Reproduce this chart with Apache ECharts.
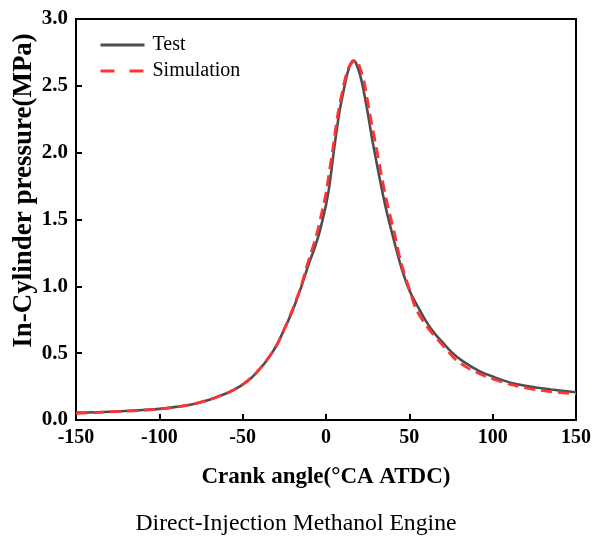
<!DOCTYPE html>
<html>
<head>
<meta charset="utf-8">
<script src="https://cdn.jsdelivr.net/npm/echarts@6/dist/echarts.min.js"></script>
<style>
  html, body { margin: 0; padding: 0; background: #fff; }
  #chart { width: 592px; height: 538px; }
</style>
</head>
<body>
<div id="chart"></div>
<script>
// Crank angle (°CA ATDC) and measured in-cylinder pressure (MPa)
const testAngle = [-150, -130, -110, -100, -90, -80, -70, -60, -55, -50, -45, -40, -35, -30, -25, -20, -15, -10, -7, -4, -2, 0, 2, 5, 8, 10, 13, 15, 16.5, 18, 20, 22, 25, 28, 32, 36, 40, 45, 50, 55, 60, 65, 70, 76, 82, 92, 100, 112, 125, 135, 150];
const testPressure = [0.055, 0.062, 0.075, 0.083, 0.098, 0.118, 0.152, 0.198, 0.228, 0.265, 0.312, 0.378, 0.455, 0.55, 0.68, 0.82, 0.99, 1.18, 1.28, 1.40, 1.50, 1.61, 1.75, 2.04, 2.3, 2.43, 2.6, 2.67, 2.69, 2.67, 2.6, 2.5, 2.3, 2.08, 1.82, 1.58, 1.38, 1.15, 0.97, 0.85, 0.74, 0.65, 0.58, 0.5, 0.44, 0.365, 0.325, 0.275, 0.245, 0.228, 0.207];

// Simulated in-cylinder pressure (MPa)
const simAngle = [-150, -130, -110, -100, -90, -80, -70, -60, -50, -40, -30, -25, -20, -15, -12, -9, -6, -2, 0, 4, 7, 10, 13, 16, 18, 20, 23, 26, 30, 33, 36, 41, 45, 50, 54, 60, 64, 70, 78, 85, 96, 112, 130, 150];
const simPressure = [0.05, 0.06, 0.073, 0.082, 0.097, 0.118, 0.152, 0.198, 0.265, 0.378, 0.55, 0.68, 0.83, 1.0, 1.13, 1.25, 1.37, 1.58, 1.70, 2.02, 2.28, 2.47, 2.62, 2.68, 2.69, 2.65, 2.52, 2.31, 2.05, 1.85, 1.66, 1.4, 1.18, 0.98, 0.83, 0.71, 0.645, 0.56, 0.45, 0.39, 0.325, 0.262, 0.219, 0.195];

const seriesNames = ['Test', 'Simulation'];
const xTicks = [-150, 150, 50];   // min, max, step
const yTicks = [0, 3, 0.5];       // min, max, step

const pair = (xs, ys) => xs.map((x, i) => [x, ys[i]]);

const serif = '"Liberation Serif", "Times New Roman", serif';
const testColor = '#4d4d4d';
const simColor = '#ff3333';

const chart = echarts.init(document.getElementById('chart'), null, { renderer: 'canvas' });

const axisCommon = {
  axisLine: { show: true, onZero: false, lineStyle: { color: '#000', width: 2 } },
  axisTick: { show: true, inside: true, length: 6, lineStyle: { color: '#000', width: 2 } },
  splitLine: { show: false }
};

// legend keys are plain line samples, no marker
const noMarker = { color: 'rgba(0,0,0,0)', borderWidth: 0, opacity: 0 };

chart.setOption({
  animation: false,
  backgroundColor: '#fff',
  title: {
    text: 'Direct-Injection Methanol Engine',
    left: 'center',
    top: 507,
    textStyle: { fontFamily: serif, fontWeight: 'normal', fontSize: 23.7, color: '#000' }
  },
  legend: {
    orient: 'vertical',
    left: 94,
    top: 30,
    itemWidth: 44,
    itemHeight: 14,
    itemGap: 6,
    textStyle: { fontFamily: serif, fontSize: 20, color: '#000', padding: [0, 0, 0, 3] },
    data: [
      { name: seriesNames[0], itemStyle: noMarker, lineStyle: { color: testColor, width: 3, type: 'solid' } },
      { name: seriesNames[1], itemStyle: noMarker, lineStyle: { color: simColor, width: 3, type: [14, 15] } }
    ]
  },
  grid: {
    left: 76, right: 16, top: 19, bottom: 118,
    containLabel: false,
    outerBoundsMode: 'none',
    show: true, borderColor: '#000', borderWidth: 2, backgroundColor: 'transparent'
  },
  xAxis: Object.assign({
    type: 'value',
    min: xTicks[0], max: xTicks[1], interval: xTicks[2],
    name: 'Crank angle(°CA ATDC)',
    nameLocation: 'middle',
    nameGap: 46,
    nameMoveOverlap: false,
    nameTextStyle: { fontFamily: serif, fontWeight: 'bold', fontSize: 23, color: '#000' },
    axisLabel: { fontFamily: serif, fontWeight: 'bold', fontSize: 20, color: '#000', margin: 8 }
  }, axisCommon),
  yAxis: Object.assign({
    type: 'value',
    min: yTicks[0], max: yTicks[1], interval: yTicks[2],
    name: 'In-Cylinder pressure(MPa)',
    nameLocation: 'middle',
    nameGap: 38,
    nameMoveOverlap: false,
    nameTextStyle: {
      fontFamily: serif, fontWeight: 'bold', fontSize: 27, color: '#000',
      padding: [0, 0, 0, 58]
    },
    axisLabel: {
      fontFamily: serif, fontWeight: 'bold', fontSize: 21, color: '#000', margin: 8,
      formatter: v => v.toFixed(1)
    }
  }, axisCommon),
  series: [
    {
      name: seriesNames[0],
      type: 'line',
      data: pair(testAngle, testPressure),
      smooth: 0.3,
      showSymbol: false,
      symbol: 'none',
      lineStyle: { color: testColor, width: 2.6 },
      itemStyle: { color: testColor },
      z: 2
    },
    {
      name: seriesNames[1],
      type: 'line',
      data: pair(simAngle, simPressure),
      smooth: 0.3,
      showSymbol: false,
      symbol: 'none',
      lineStyle: { color: simColor, width: 2.8, type: [11, 6] },
      itemStyle: { color: simColor },
      z: 3
    }
  ]
});
</script>
</body>
</html>
